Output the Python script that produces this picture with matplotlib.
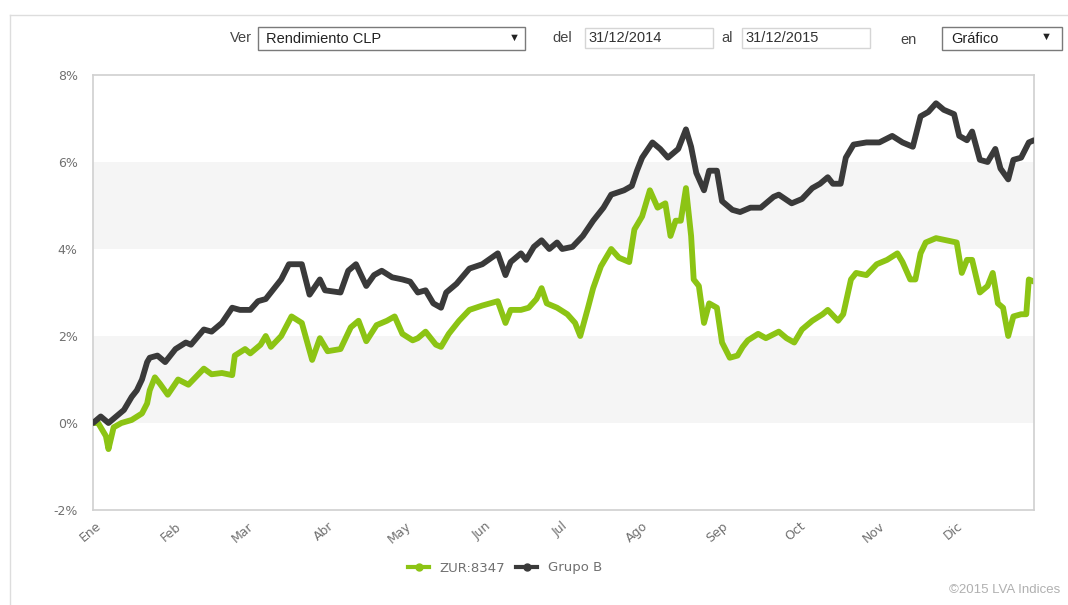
import numpy as np
import matplotlib
matplotlib.use("Agg")
import matplotlib.pyplot as plt
import matplotlib.dates as mdates
from matplotlib.patches import Rectangle
from matplotlib.lines import Line2D

# datos: días desde 31/12/2014 y rendimiento acumulado (%)
grupo_dias = [0, 3, 6, 10, 12, 15, 17, 19, 21, 22, 25, 28, 32, 36, 38, 43, 46, 50, 54, 57,
              61, 64, 67, 73, 76, 81, 84, 88, 90, 96, 99, 102, 106, 109, 112, 116, 120, 123,
              126, 129, 132, 135, 137, 141, 146, 151, 157, 160, 162, 166, 168, 171, 174, 177,
              180, 182, 186, 190, 194, 198, 201, 206, 209, 211, 213, 217, 220, 223, 227, 230,
              232, 234, 237, 239, 242, 244, 248, 251, 255, 259, 264, 266, 271, 275, 279, 282,
              285, 287, 290, 292, 295, 300, 305, 310, 314, 318, 321, 324, 327, 330, 334, 336,
              339, 341, 344, 347, 350, 352, 355, 357, 360, 363, 365]
grupo_val = [0.0, 0.15, 0.0, 0.2, 0.3, 0.6, 0.75, 1.0, 1.4, 1.5, 1.55, 1.4, 1.7, 1.85, 1.8,
             2.15, 2.1, 2.3, 2.65, 2.6, 2.6, 2.8, 2.85, 3.3, 3.65, 3.65, 2.95, 3.3, 3.05, 3.0,
             3.5, 3.65, 3.15, 3.4, 3.5, 3.35, 3.3, 3.25, 3.0, 3.05, 2.75, 2.65, 3.0, 3.2, 3.55,
             3.65, 3.9, 3.4, 3.7, 3.9, 3.75, 4.05, 4.2, 4.0, 4.15, 4.0, 4.05, 4.3, 4.65, 4.95,
             5.25, 5.35, 5.45, 5.8, 6.1, 6.45, 6.3, 6.1, 6.3, 6.75, 6.35, 5.75, 5.35, 5.8, 5.8,
             5.1, 4.9, 4.85, 4.95, 4.95, 5.2, 5.25, 5.05, 5.15, 5.4, 5.5, 5.65, 5.5, 5.5, 6.1,
             6.4, 6.45, 6.45, 6.6, 6.45, 6.35, 7.05, 7.15, 7.35, 7.2, 7.1, 6.6, 6.5, 6.7, 6.05,
             6.0, 6.3, 5.85, 5.6, 6.05, 6.1, 6.45, 6.5]

zur_dias = [0, 2, 5, 6, 8, 11, 15, 19, 21, 22, 24, 26, 29, 33, 37, 43, 46, 50, 54, 55, 59,
            61, 65, 67, 69, 73, 77, 81, 85, 88, 91, 96, 100, 103, 106, 110, 114, 117, 120, 124,
            126, 129, 133, 135, 138, 142, 146, 151, 157, 160, 162, 166, 169, 172, 174, 176, 180,
            184, 187, 189, 192, 194, 197, 201, 204, 208, 210, 213, 216, 219, 222, 224, 226, 228,
            230, 232, 233, 235, 237, 239, 242, 244, 247, 250, 252, 254, 258, 261, 266, 269, 272,
            275, 279, 283, 285, 289, 291, 294, 296, 300, 304, 308, 312, 314, 317, 319, 321, 323,
            327, 331, 335, 337, 339, 341, 344, 347, 349, 351, 353, 355, 357, 360, 362, 363, 365]
zur_val = [0.0, 0.0, -0.3, -0.6, -0.1, 0.0, 0.07, 0.22, 0.45, 0.75, 1.05, 0.9, 0.65, 1.0,
           0.88, 1.25, 1.12, 1.15, 1.1, 1.55, 1.7, 1.6, 1.8, 2.0, 1.75, 2.0, 2.45, 2.3, 1.45,
           1.95, 1.65, 1.7, 2.2, 2.35, 1.88, 2.25, 2.35, 2.45, 2.05, 1.9, 1.95, 2.1, 1.8, 1.75,
           2.05, 2.35, 2.6, 2.7, 2.8, 2.3, 2.6, 2.6, 2.65, 2.85, 3.1, 2.75, 2.65, 2.5, 2.3, 2.0,
           2.65, 3.1, 3.6, 4.0, 3.8, 3.7, 4.45, 4.75, 5.35, 4.95, 5.05, 4.3, 4.65, 4.65, 5.4,
           4.3, 3.3, 3.15, 2.3, 2.75, 2.65, 1.85, 1.5, 1.55, 1.75, 1.9, 2.05, 1.95, 2.1, 1.95,
           1.85, 2.15, 2.35, 2.5, 2.6, 2.35, 2.5, 3.3, 3.45, 3.4, 3.65, 3.75, 3.9, 3.7, 3.3, 3.3,
           3.9, 4.15, 4.25, 4.2, 4.15, 3.45, 3.75, 3.75, 3.0, 3.15, 3.45, 2.75, 2.65, 2.0, 2.45,
           2.5, 2.5, 3.3, 3.25]

meses = ['Ene', 'Feb', 'Mar', 'Abr', 'May', 'Jun', 'Jul', 'Ago', 'Sep', 'Oct', 'Nov', 'Dic']
y_ticks = [-2, 0, 2, 4, 6, 8]

verde = '#8cc414'
gris_osc = '#3a3a3a'
txt_gris = '#707070'

plt.rcParams['font.family'] = ['Liberation Sans', 'DejaVu Sans']

W, H = 1068, 605
fig = plt.figure(figsize=(W / 100, H / 100), dpi=100)


def fx(x):
    return x / W


def fy(y):
    return 1 - y / H


base = np.datetime64('2014-12-31')
x_grupo = base + np.array(grupo_dias).astype('timedelta64[D]')
x_zur = base + np.array(zur_dias).astype('timedelta64[D]')

ax = fig.add_axes([fx(93), fy(510), fx(1034) - fx(93), fy(75) - fy(510)])

# bandas grises
ax.axhspan(0, 2, color='#f5f5f5', zorder=0, lw=0)
ax.axhspan(4, 6, color='#f5f5f5', zorder=0, lw=0)

ax.plot(x_grupo, grupo_val, color=gris_osc, lw=4.2, solid_joinstyle='round',
        solid_capstyle='round', zorder=3)
ax.plot(x_zur, zur_val, color=verde, lw=4.2, solid_joinstyle='round',
        solid_capstyle='round', zorder=2)

ax.set_xlim(np.datetime64('2014-12-31'), np.datetime64('2015-12-31'))
ax.set_ylim(-2, 8)
ax.set_yticks(y_ticks)
ax.set_yticklabels(['%d%%' % v for v in y_ticks], family='DejaVu Sans')
ax.xaxis.set_major_locator(mdates.MonthLocator())
ax.set_xticks(ax.get_xticks())
ax.set_xticklabels(meses, rotation=40, ha='right', rotation_mode='anchor',
                   family='DejaVu Sans')
ax.tick_params(axis='both', length=0, colors=txt_gris, labelsize=9)
ax.tick_params(axis='y', pad=11)
ax.tick_params(axis='x', pad=7)
for s in ax.spines.values():
    s.set_color('#d0d0d0')
    s.set_linewidth(1.2)

# leyenda
handles = [Line2D([], [], color=verde, lw=3, marker='o', markersize=5),
           Line2D([], [], color=gris_osc, lw=3, marker='o', markersize=5)]
leg = fig.legend(handles, ['ZUR:8347', 'Grupo B'], loc='center', ncol=2,
                 bbox_to_anchor=(fx(505), fy(568)), frameon=False, handlelength=1.6,
                 columnspacing=0.8, handletextpad=0.8, labelcolor=txt_gris,
                 prop={'family': 'DejaVu Sans', 'size': 9.5})

fig.text(fx(1060), fy(590), '©2015 LVA Indices', ha='right', va='center',
         color='#b0b0b0', fontsize=9.5)

# marco del panel
fig.add_artist(Line2D([fx(10), fx(1068)], [fy(15), fy(15)], color='#dddddd', lw=1))
fig.add_artist(Line2D([fx(10), fx(10)], [fy(15), fy(605)], color='#dddddd', lw=1))

# controles de cabecera
def caja(x0, y0, x1, y1, borde):
    fig.add_artist(Rectangle((fx(x0), fy(y1)), fx(x1) - fx(x0), fy(y0) - fy(y1),
                             transform=fig.transFigure, facecolor='white',
                             edgecolor=borde, lw=1))


fig.text(fx(230), fy(38), 'Ver', ha='left', va='center', color='#444444', fontsize=10.5)
caja(258, 27, 525, 50, '#7a7a7a')
fig.text(fx(266), fy(39), 'Rendimiento CLP', ha='left', va='center', color='#222222', fontsize=10.5)
fig.text(fx(514), fy(38), '▼', ha='center', va='center', color='#222222', fontsize=8)
fig.text(fx(552), fy(38), 'del', ha='left', va='center', color='#444444', fontsize=10.5)
caja(585, 28, 713, 48, '#d5d5d5')
fig.text(fx(588), fy(38), '31/12/2014', ha='left', va='center', color='#333333', fontsize=10.5)
fig.text(fx(721), fy(38), 'al', ha='left', va='center', color='#444444', fontsize=10.5)
caja(742, 28, 870, 48, '#d5d5d5')
fig.text(fx(745), fy(38), '31/12/2015', ha='left', va='center', color='#333333', fontsize=10.5)
fig.text(fx(900), fy(40), 'en', ha='left', va='center', color='#444444', fontsize=10.5)
caja(942, 27, 1062, 50, '#7a7a7a')
fig.text(fx(951), fy(39), 'Gráfico', ha='left', va='center', color='#222222', fontsize=10.5)
fig.text(fx(1046), fy(37), '▼', ha='center', va='center', color='#222222', fontsize=8)

fig.savefig('out.png', dpi=100, facecolor='white')
